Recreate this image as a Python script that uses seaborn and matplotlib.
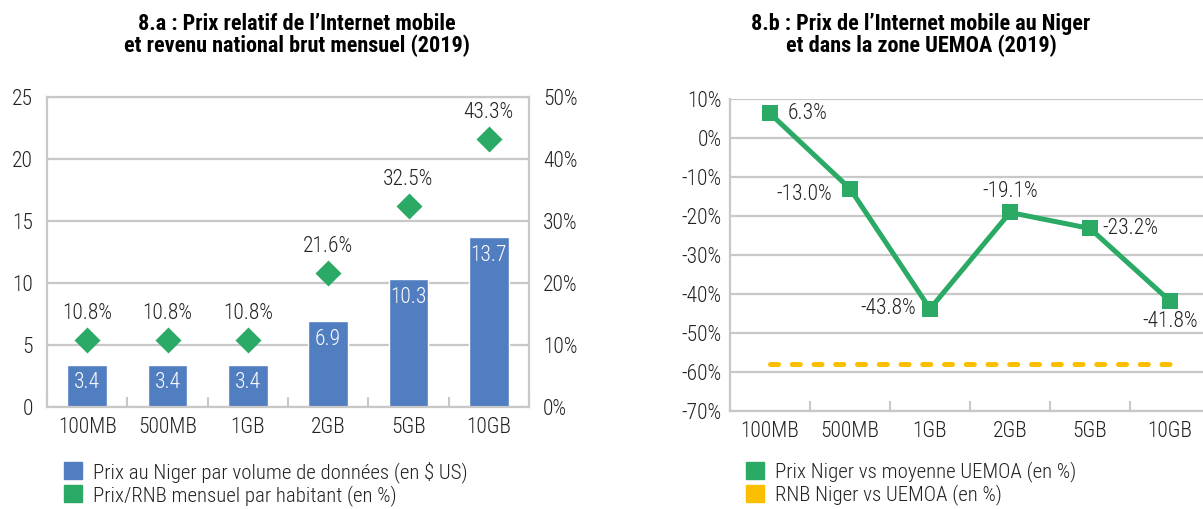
import numpy as np
import matplotlib
matplotlib.use('Agg')
import matplotlib.pyplot as plt
import seaborn as sns
from matplotlib.patches import Patch
from matplotlib.ticker import FuncFormatter

# data
volumes = ['100MB', '500MB', '1GB', '2GB', '5GB', '10GB']
prix_usd = [3.4, 3.4, 3.4, 6.9, 10.3, 13.7]
prix_rnb_pct = [10.8, 10.8, 10.8, 21.6, 32.5, 43.3]
ecart_uemoa_pct = [6.3, -13.0, -43.8, -19.1, -23.2, -41.8]
rnb_vs_uemoa_pct = [-58.0, -58.0, -58.0, -58.0, -58.0, -58.0]

BLUE = '#517dc1'
GREEN = '#2baa66'
YELLOW = '#fcbf00'
GRID = '#c8c8c8'
TXT = '#222222'

sns.set_theme(style='white')
plt.rcParams['font.family'] = ['Roboto Condensed', 'DejaVu Sans']
plt.rcParams['font.weight'] = 300
plt.rcParams['text.color'] = TXT
plt.rcParams['xtick.color'] = TXT
plt.rcParams['ytick.color'] = TXT

W, H = 1203, 509
fig = plt.figure(figsize=(W / 100, H / 100), dpi=100)
pos = np.arange(len(volumes))
FS = 15.5


def px_axes(left, top, right, bottom):
    return fig.add_axes([left / W, 1 - bottom / H, (right - left) / W, (bottom - top) / H])


def style_axis(ax):
    ax.set_xlim(-0.5, len(volumes) - 0.5)
    ax.set_xticks(pos)
    ax.set_xticklabels(volumes, fontsize=FS)
    ax.set_xticks(np.arange(-0.5, len(volumes), 1), minor=True)
    ax.tick_params(axis='x', which='major', length=0, pad=7)
    ax.tick_params(axis='x', which='minor', length=7, width=1.5, color=GRID, direction='in', bottom=True)
    ax.yaxis.grid(True, color=GRID, linewidth=1.6)
    ax.set_axisbelow(True)
    ax.set_xlabel('')
    ax.set_ylabel('')
    for s in ax.spines.values():
        s.set_color(GRID)
        s.set_linewidth(1.6)


pct = FuncFormatter(lambda v, _: f'{v:.0f}%')

# ---- 8.a : bars + diamonds on twin axis
ax = px_axes(47, 97, 529, 407)
sns.barplot(x=pos, y=prix_usd, color=BLUE, width=0.49, saturation=1, ax=ax)
style_axis(ax)
ax.set_ylim(0, 25)
ax.set_yticks(np.arange(0, 26, 5))
ax.tick_params(axis='y', length=0, pad=10, labelsize=FS)
for x, v in zip(pos, prix_usd):
    ax.annotate(f'{v:.1f}', (x, v), xytext=(0, -13), textcoords='offset points',
                ha='center', va='center', color='white', fontsize=FS)

ax2 = ax.twinx()
sns.scatterplot(x=pos, y=prix_rnb_pct, marker='D', s=175, color=GREEN, linewidth=0, ax=ax2)
ax2.set_ylim(0, 50)
ax2.set_yticks(np.arange(0, 51, 10))
ax2.yaxis.set_major_formatter(pct)
ax2.tick_params(axis='y', length=0, pad=10, labelsize=FS)
ax2.set_ylabel('')
for s in ax2.spines.values():
    s.set_visible(False)
for x, v in zip(pos, prix_rnb_pct):
    ax2.annotate(f'{v:.1f}%', (x, v), xytext=(0, 19), textcoords='offset points',
                 ha='center', va='center', fontsize=FS)

# ---- 8.b : line chart
ax3 = px_axes(730, 99, 1210, 411)
sns.lineplot(x=pos, y=rnb_vs_uemoa_pct, color=YELLOW, linewidth=3.6,
             linestyle=(0, (1.6, 2.75)), dash_capstyle='round', ax=ax3)
sns.lineplot(x=pos, y=ecart_uemoa_pct, color=GREEN, linewidth=3.6, marker='s',
             markersize=12, markeredgewidth=0, ax=ax3)
style_axis(ax3)
ax3.set_ylim(-70, 10)
ax3.set_yticks(np.arange(-70, 11, 10))
ax3.yaxis.set_major_formatter(pct)
ax3.tick_params(axis='y', length=0, pad=6, labelsize=FS)
ax3.spines['top'].set_visible(False)
ax3.spines['right'].set_visible(False)

# label offsets (points) for each value, as placed in the reference
offsets = [((13, 0), 'left'), ((-13, -4), 'right'), ((-10, 0), 'right'),
           ((0, 15), 'center'), ((9, 0), 'left'), ((0, -15), 'center')]
for x, v, (off, ha) in zip(pos, ecart_uemoa_pct, offsets):
    ax3.annotate(f'{v:.1f}%', (x, v), xytext=off, textcoords='offset points',
                 ha=ha, va='center', fontsize=FS)

# ---- titles
fig.text(297 / W, 1 - 35 / H, '8.a : Prix relatif de l\u2019Internet mobile\net revenu national brut mensuel (2019)',
         ha='center', va='center', fontsize=16, fontweight='bold', linespacing=0.98, color='black')
fig.text(921 / W, 1 - 35 / H, '8.b : Prix de l\u2019Internet mobile au Niger\net dans la zone UEMOA (2019)',
         ha='center', va='center', fontsize=16, fontweight='bold', linespacing=0.98, color='black')

# ---- legends
leg_kw = dict(loc='upper left', frameon=False, fontsize=15, handlelength=0.87, handleheight=0.87,
              handletextpad=0.5, labelspacing=0.1, borderpad=0, borderaxespad=0)
fig.legend(handles=[Patch(color=BLUE, label='Prix au Niger par volume de données (en $ US)'),
                    Patch(color=GREEN, label='Prix/RNB mensuel par habitant (en %)')],
           bbox_to_anchor=(64 / W, 1 - 461 / H), **leg_kw)
fig.legend(handles=[Patch(color=GREEN, label='Prix Niger vs moyenne UEMOA (en %)'),
                    Patch(color=YELLOW, label='RNB Niger vs UEMOA (en %)')],
           bbox_to_anchor=(746 / W, 1 - 461 / H), **leg_kw)

fig.savefig('out.png', dpi=100)
